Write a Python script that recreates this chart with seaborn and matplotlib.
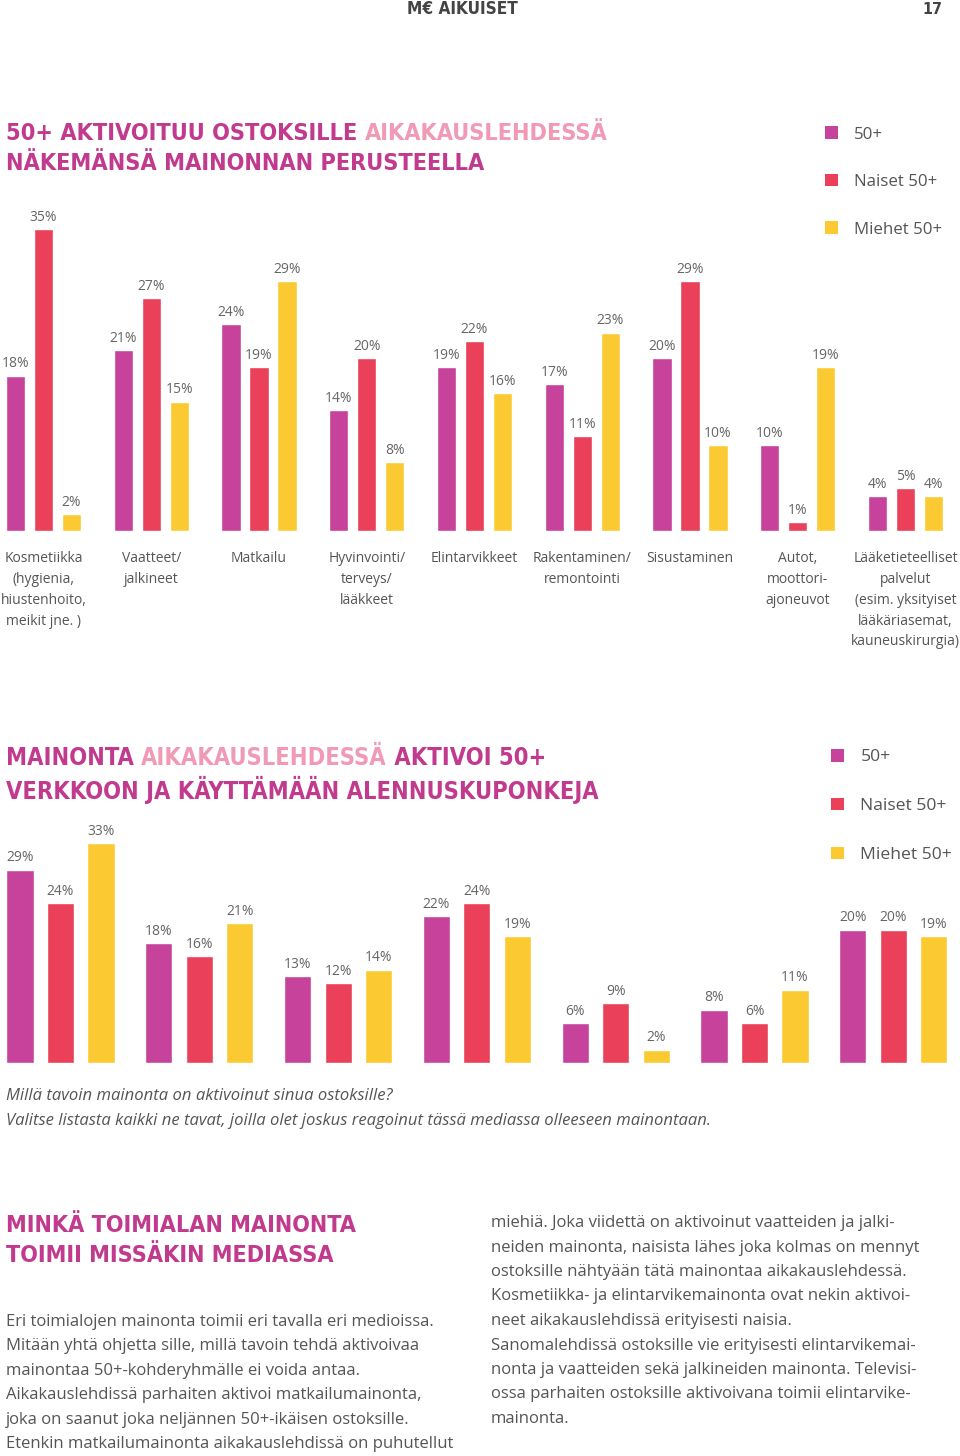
import matplotlib
matplotlib.use("Agg")
import matplotlib.pyplot as plt
from matplotlib import font_manager as fm
import seaborn as sns
import pandas as pd
from matplotlib.patches import Patch

# Kategorien und Werte (Diagramm 1)
kategorien_1 = [
    "Kosmetiikka\n(hygienia,\nhiustenhoito,\nmeikit jne. )",
    "Vaatteet/\njalkineet",
    "Matkailu",
    "Hyvinvointi/\nterveys/\nlääkkeet",
    "Elintarvikkeet",
    "Rakentaminen/\nremontointi",
    "Sisustaminen",
    "Autot,\nmoottori-\najoneuvot",
    "Lääketieteelliset\npalvelut\n(esim. yksityiset\nlääkäriasemat,\nkauneuskirurgia)",
]
kaikki_1 = [18, 21, 24, 14, 19, 17, 20, 10, 4]
naiset_1 = [35, 27, 19, 20, 22, 11, 29, 1, 5]
miehet_1 = [2, 15, 29, 8, 16, 23, 10, 19, 4]

# Diagramm 2 (ohne Kategorienbeschriftung im Original)
kategorien_2 = ["1", "2", "3", "4", "5", "6", "7"]
kaikki_2 = [29, 18, 13, 22, 6, 8, 20]
naiset_2 = [24, 16, 12, 24, 9, 6, 20]
miehet_2 = [33, 21, 14, 19, 2, 11, 19]

ryhmat = ["50+", "Naiset 50+", "Miehet 50+"]
farben = ["#C7429A", "#EA4059", "#FBCA32"]
LILA = "#C13A8E"
ROSA = "#F09AB5"
GRAU = "#555555"

W, H = 960, 1456
sns.set_theme(style="white")
plt.rcParams["font.family"] = ["Open Sans", "DejaVu Sans"]


def gewicht(f):
    w = f.weight
    if isinstance(w, str):
        w = {"bold": 700, "heavy": 800, "black": 900, "semibold": 600,
             "demibold": 600, "extra bold": 800, "normal": 400}.get(w, 400)
    return w


# schmale, fette Schrift für Überschriften suchen
kandidaten = [f for f in fm.fontManager.ttflist
              if ("Narrow" in f.name or "Condensed" in f.name or f.stretch == "condensed")
              and f.style == "normal" and gewicht(f) >= 600]
kandidaten.sort(key=lambda f: abs(gewicht(f) - 700))
KOPF_DATEI = kandidaten[0].fname if kandidaten else None


def kopf_fp(groesse):
    if KOPF_DATEI:
        return fm.FontProperties(fname=KOPF_DATEI, size=groesse)
    return fm.FontProperties(family="DejaVu Sans", weight="bold", size=groesse)


fig = plt.figure(figsize=(W / 100, H / 100), dpi=100)
renderer = fig.canvas.get_renderer()


def px(x, y):
    return x / W, 1 - y / H


def achse(x0, y_oben, x1, y_unten):
    return fig.add_axes([x0 / W, 1 - y_unten / H, (x1 - x0) / W, (y_unten - y_oben) / H])


def long_df(kat, a, b, c):
    rows = []
    for name, werte in zip(ryhmat, [a, b, c]):
        for k, v in zip(kat, werte):
            rows.append({"kategorie": k, "gruppe": name, "wert": v})
    return pd.DataFrame(rows)


def balken(ax, df, kat, breite, luecke):
    sns.barplot(data=df, x="kategorie", y="wert", hue="gruppe", order=kat,
                hue_order=ryhmat, palette=farben, width=breite, gap=luecke,
                saturation=1, ax=ax, legend=False)
    for cont in ax.containers:
        ax.bar_label(cont, fmt="%d%%", padding=3, fontsize=10, color="#666666")
    sns.despine(ax=ax, left=True, bottom=True)
    ax.set_yticks([])
    ax.set_xlabel("")
    ax.set_ylabel("")
    ax.set_facecolor("none")


def legende(ax, x, y, groesse):
    handles = [Patch(facecolor=f, edgecolor="none") for f in farben]
    ax.legend(handles, ryhmat, loc="upper left", bbox_to_anchor=px(x, y),
              bbox_transform=fig.transFigure, frameon=False, borderpad=0,
              handlelength=0.75, handleheight=0.75, handletextpad=0.95,
              labelspacing=1.85, prop={"family": "Open Sans", "size": groesse},
              labelcolor=GRAU)


def breite_von(text, groesse):
    t = fig.text(0, 0, text, fontproperties=kopf_fp(groesse))
    w = t.get_window_extent(renderer=renderer).width
    t.remove()
    return w


def passend(text, ziel_breite, maximal=21):
    # Größe so wählen, dass der Text die Breite des Originals hat
    return min(maximal, 19 * ziel_breite / breite_von(text, 19))


def titel(x, y, zeilen, ziel_breite, abstand):
    erste = "".join(t for t, _ in zeilen[0])
    groesse = passend(erste, ziel_breite)
    for i, teile in enumerate(zeilen):
        xx = x
        for text, farbe in teile:
            t = fig.text(*px(xx, y + i * abstand), text, color=farbe,
                         fontproperties=kopf_fp(groesse), va="center", ha="left")
            xx += t.get_window_extent(renderer=renderer).width


# Kopfzeile
fig.text(*px(462, 9), "M€ AIKUISET", ha="center", va="center", color="#444444",
         fontproperties=kopf_fp(passend("M€ AIKUISET", 111, 15)))
fig.text(*px(932, 9), "17", ha="center", va="center", color="#444444",
         fontproperties=kopf_fp(passend("17", 20, 15)))

# Diagramm 1
titel(6, 133, [[("50+ AKTIVOITUU OSTOKSILLE ", LILA), ("AIKAKAUSLEHDESSÄ", ROSA)],
               [("NÄKEMÄNSÄ MAINONNAN PERUSTEELLA", LILA)]], 602, 31)

ax1 = achse(0, 200, W, 531)
balken(ax1, long_df(kategorien_1, kaikki_1, naiset_1, miehet_1), kategorien_1, 0.78, 0.32)
ax1.set_ylim(0, 331 / 8.63)
ax1.set_xlim(-43.5 / 107.75, (W - 43.5) / 107.75)
ax1.tick_params(axis="x", length=0, pad=14.5, labelsize=10, labelcolor=GRAU)
for lab in ax1.get_xticklabels():
    lab.set_linespacing(1.53)
    lab.set_verticalalignment("top")
legende(ax1, 817, 118, 12.2)

# Diagramm 2
titel(6, 758, [[("MAINONTA ", LILA), ("AIKAKAUSLEHDESSÄ", ROSA), (" AKTIVOI 50+", LILA)],
               [("VERKKOON JA KÄYTTÄMÄÄN ALENNUSKUPONKEJA", LILA)]], 539, 32)

ax2 = achse(0, 820, W, 1063)
balken(ax2, long_df(kategorien_2, kaikki_2, naiset_2, miehet_2), kategorien_2, 0.875, 0.33)
ax2.set_ylim(0, 243 / 6.67)
ax2.set_xlim(-60.5 / 138.8, (W - 60.5) / 138.8)
ax2.set_xticks([])
legende(ax2, 822, 740, 12.6)

fig.text(*px(6, 1096), "Millä tavoin mainonta on aktivoinut sinua ostoksille?",
         fontsize=12, style="italic", color=GRAU, va="center")
fig.text(*px(6, 1121), "Valitse listasta kaikki ne tavat, joilla olet joskus reagoinut tässä mediassa olleeseen mainontaan.",
         fontsize=12, style="italic", color=GRAU, va="center")

# Textteil
titel(6, 1226, [[("MINKÄ TOIMIALAN MAINONTA", LILA)],
                [("TOIMII MISSÄKIN MEDIASSA", LILA)]], 351, 30)

links = [
    "Eri toimialojen mainonta toimii eri tavalla eri medioissa.",
    "Mitään yhtä ohjetta sille, millä tavoin tehdä aktivoivaa",
    "mainontaa 50+-kohderyhmälle ei voida antaa.",
    "Aikakauslehdissä parhaiten aktivoi matkailumainonta,",
    "joka on saanut joka neljännen 50+-ikäisen ostoksille.",
    "Etenkin matkailumainonta aikakauslehdissä on puhutellut",
]
rechts = [
    "miehiä. Joka viidettä on aktivoinut vaatteiden ja jalki-",
    "neiden mainonta, naisista lähes joka kolmas on mennyt",
    "ostoksille nähtyään tätä mainontaa aikakauslehdessä.",
    "Kosmetiikka- ja elintarvikemainonta ovat nekin aktivoi-",
    "neet aikakauslehdissä erityisesti naisia.",
    "Sanomalehdissä ostoksille vie erityisesti elintarvikemai-",
    "nonta ja vaatteiden sekä jalkineiden mainonta. Televisi-",
    "ossa parhaiten ostoksille aktivoivana toimii elintarvike-",
    "mainonta.",
]
for i, z in enumerate(links):
    fig.text(*px(6, 1322 + i * 24.4), z, fontsize=12, color=GRAU, va="center")
for i, z in enumerate(rechts):
    fig.text(*px(491, 1223 + i * 24.5), z, fontsize=12, color=GRAU, va="center")

fig.savefig("out.png", dpi=100)
